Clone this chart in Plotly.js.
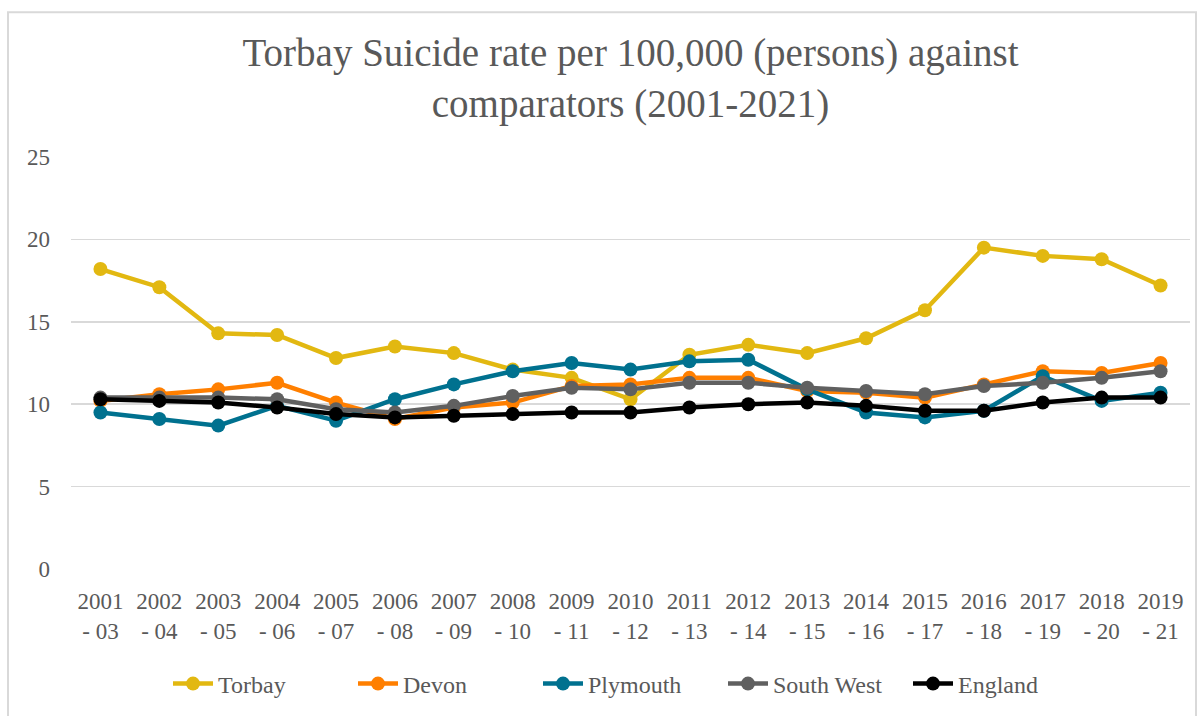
<!DOCTYPE html>
<html>
<head>
<meta charset="utf-8">
<script src="https://cdn.plot.ly/plotly-3.0.1.min.js"></script>
<style>html,body{margin:0;padding:0;background:#fff;}#chart{width:1201px;height:716px;}</style>
</head>
<body>
<div id="chart"></div>
<script>
const categories = ["2001<br>- 03","2002<br>- 04","2003<br>- 05","2004<br>- 06","2005<br>- 07","2006<br>- 08","2007<br>- 09","2008<br>- 10","2009<br>- 11","2010<br>- 12","2011<br>- 13","2012<br>- 14","2013<br>- 15","2014<br>- 16","2015<br>- 17","2016<br>- 18","2017<br>- 19","2018<br>- 20","2019<br>- 21"];
const torbay    = [18.2,17.1,14.3,14.2,12.8,13.5,13.1,12.1,11.6,10.3,13.0,13.6,13.1,14.0,15.7,19.5,19.0,18.8,17.2];
const devon     = [10.2,10.6,10.9,11.3,10.1,9.1,9.8,10.1,11.1,11.2,11.6,11.6,10.8,10.7,10.4,11.2,12.0,11.9,12.5];
const plymouth  = [9.5,9.1,8.7,9.9,9.0,10.3,11.2,12.0,12.5,12.1,12.6,12.7,10.9,9.5,9.2,9.6,11.7,10.2,10.7];
const southWest = [10.4,10.4,10.4,10.3,9.7,9.5,9.9,10.5,11.0,10.9,11.3,11.3,11.0,10.8,10.6,11.1,11.3,11.6,12.0];
const england   = [10.3,10.2,10.1,9.8,9.4,9.2,9.3,9.4,9.5,9.5,9.8,10.0,10.1,9.9,9.6,9.6,10.1,10.4,10.4];

const seriesNames = ["Torbay","Devon","Plymouth","South West","England"];
const seriesData = [torbay, devon, plymouth, southWest, england];
const seriesColors = ["#E2B811","#FF7F00","#00718F","#606060","#000000"];

const traces = seriesNames.map((n,i)=>({
  type:'scatter', mode:'lines+markers', name:n,
  x: categories, y: seriesData[i],
  line:{color:seriesColors[i], width:4.5},
  marker:{color:seriesColors[i], size:14},
  hoverinfo:'skip'
}));

const fontFam = '"Liberation Serif", "DejaVu Serif", serif';
const L = 71, R = 1190, T = 157, B = 570;
const pw = R-L, ph = B-T;
const layout = {
  width:1201, height:716,
  margin:{l:L, r:1201-R, t:T, b:716-B},
  paper_bgcolor:'#fff', plot_bgcolor:'#fff',
  font:{family:fontFam, color:'#595959', size:22},
  title:{text:'Torbay Suicide rate per 100,000 (persons) against<br>comparators (2001-2021)',
         font:{family:fontFam, size:39, color:'#595959'},
         x:0.5, xanchor:'center', xref:'paper', yref:'container', y:1-66/716, yanchor:'top'},
  xaxis:{type:'category', range:[-0.5,18.5], showgrid:false, zeroline:false, showline:false, ticks:'',
         ticklabelstandoff:16, tickfont:{size:23, color:'#595959'}, fixedrange:true},
  yaxis:{range:[0,25], tickvals:[0,5,10,15,20,25], showgrid:true, gridcolor:'#d9d9d9', gridwidth:1.5,
         zeroline:false, showline:false, ticks:'', ticklen:0, ticklabelstandoff:20,
         tickfont:{size:23, color:'#595959'}, fixedrange:true},
  showlegend:true,
  legend:{orientation:'h', x:0.5, xanchor:'center', y:(B-684)/ph, yanchor:'middle',
          font:{size:24, color:'#595959'}, itemwidth:40, traceorder:'normal',
          entrywidth:130, entrywidthmode:'pixels'},
  shapes:[{type:'rect', xref:'paper', yref:'paper',
           x0:(8-L)/pw, x1:(1196-L)/pw, y0:(B-730)/ph, y1:(B-12)/ph,
           line:{color:'#d9d9d9', width:2}, fillcolor:'rgba(0,0,0,0)', layer:'below'}],
  hovermode:false
};
Plotly.newPlot('chart', traces, layout, {displayModeBar:false, staticPlot:true});
</script>
</body>
</html>
